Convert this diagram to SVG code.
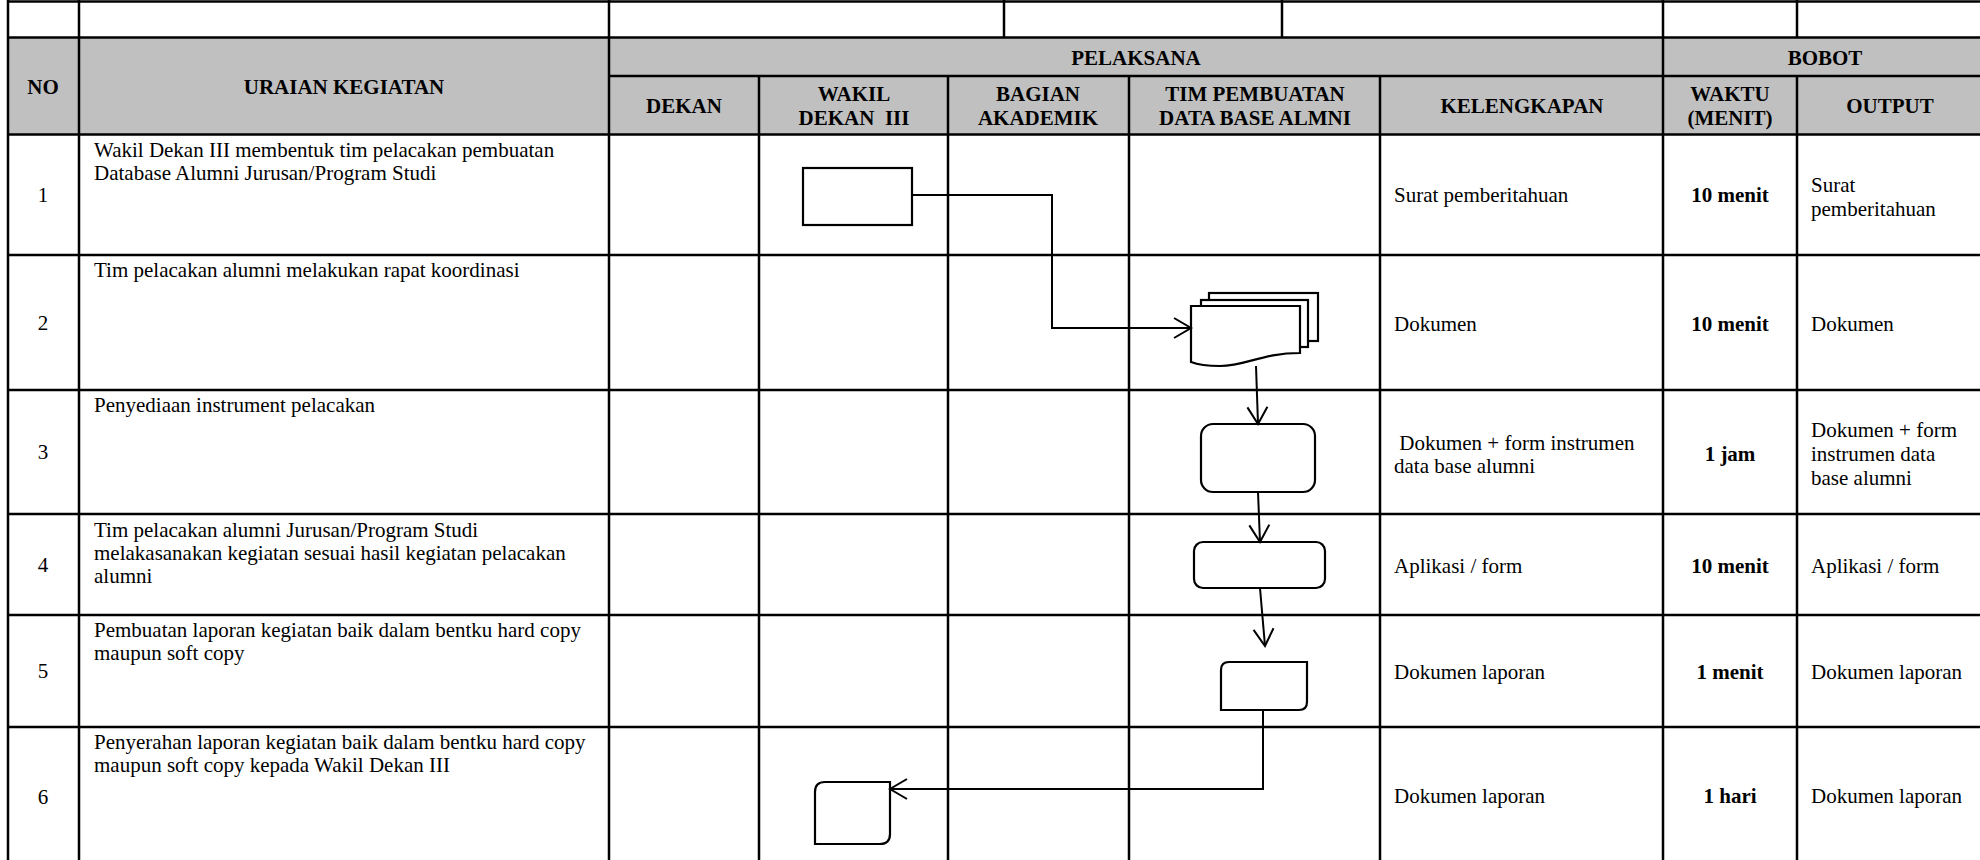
<svg xmlns="http://www.w3.org/2000/svg" width="1980" height="860" viewBox="0 0 1980 860">
<style>
text{font-family:"Liberation Serif","Times New Roman",serif;font-size:21px;fill:#000;white-space:pre}
.b{font-weight:bold}
.c{text-anchor:middle}
.grid line{stroke:#000;stroke-width:2.5}
.shape{fill:#fff;stroke:#000;stroke-width:2.2}
.conn{fill:none;stroke:#000;stroke-width:2}
</style>
<defs>
<marker id="arr" markerUnits="userSpaceOnUse" markerWidth="22" markerHeight="24" refX="19" refY="12" orient="auto" overflow="visible">
<path d="M2,2 L19,12 L2,22" fill="none" stroke="#000" stroke-width="2"/>
</marker>
</defs>
<rect x="0" y="0" width="1980" height="860" fill="#fff"/>
<rect x="8" y="37.5" width="1975" height="97" fill="#c0c0c0"/>
<g class="grid" id="table">
<line x1="8" y1="1.5" x2="1980" y2="1.5"/>
<line x1="8" y1="37.5" x2="1980" y2="37.5"/>
<line x1="609" y1="76" x2="1980" y2="76"/>
<line x1="8" y1="134.5" x2="1980" y2="134.5"/>
<line x1="8" y1="255" x2="1980" y2="255"/>
<line x1="8" y1="390" x2="1980" y2="390"/>
<line x1="8" y1="514" x2="1980" y2="514"/>
<line x1="8" y1="615" x2="1980" y2="615"/>
<line x1="8" y1="727" x2="1980" y2="727"/>
<line x1="8" y1="0" x2="8" y2="860"/>
<line x1="79" y1="0" x2="79" y2="860"/>
<line x1="609" y1="0" x2="609" y2="860"/>
<line x1="1004" y1="0" x2="1004" y2="37.5"/>
<line x1="1282" y1="0" x2="1282" y2="37.5"/>
<line x1="1663" y1="0" x2="1663" y2="860"/>
<line x1="1797" y1="0" x2="1797" y2="37.5"/>
<line x1="1797" y1="76" x2="1797" y2="860"/>
<line x1="759" y1="76" x2="759" y2="860"/>
<line x1="948" y1="76" x2="948" y2="860"/>
<line x1="1129" y1="76" x2="1129" y2="860"/>
<line x1="1380" y1="76" x2="1380" y2="860"/>
</g>
<g id="header">
<text class="b c" x="43" y="94">NO</text>
<text class="b c" x="344" y="94">URAIAN KEGIATAN</text>
<text class="b c" x="1136" y="65">PELAKSANA</text>
<text class="b c" x="1825" y="65">BOBOT</text>
<text class="b c" x="684" y="113">DEKAN</text>
<text class="b c" x="854" y="101">WAKIL</text>
<text class="b c" x="854" y="125">DEKAN  III</text>
<text class="b c" x="1038" y="101">BAGIAN</text>
<text class="b c" x="1038" y="125">AKADEMIK</text>
<text class="b c" x="1255" y="101">TIM PEMBUATAN</text>
<text class="b c" x="1255" y="125">DATA BASE ALMNI</text>
<text class="b c" x="1522" y="113">KELENGKAPAN</text>
<text class="b c" x="1730" y="101">WAKTU</text>
<text class="b c" x="1730" y="125">(MENIT)</text>
<text class="b c" x="1890" y="113">OUTPUT</text>
</g>
<g id="row1">
<text class="c" x="43" y="202">1</text>
<text x="94" y="157">Wakil Dekan III membentuk tim pelacakan pembuatan</text>
<text x="94" y="180">Database Alumni Jurusan/Program Studi</text>
<text x="1394" y="202">Surat pemberitahuan</text>
<text class="b c" x="1730" y="202">10 menit</text>
<text x="1811" y="192">Surat</text>
<text x="1811" y="216">pemberitahuan</text>
</g>
<g id="row2">
<text class="c" x="43" y="330">2</text>
<text x="94" y="277">Tim pelacakan alumni melakukan rapat koordinasi</text>
<text x="1394" y="331">Dokumen</text>
<text class="b c" x="1730" y="331">10 menit</text>
<text x="1811" y="331">Dokumen</text>
</g>
<g id="row3">
<text class="c" x="43" y="459">3</text>
<text x="94" y="412">Penyediaan instrument pelacakan</text>
<text x="1394" y="450"> Dokumen + form instrumen</text>
<text x="1394" y="473">data base alumni</text>
<text class="b c" x="1730" y="461">1 jam</text>
<text x="1811" y="437">Dokumen + form</text>
<text x="1811" y="461">instrumen data</text>
<text x="1811" y="485">base alumni</text>
</g>
<g id="row4">
<text class="c" x="43" y="572">4</text>
<text x="94" y="537">Tim pelacakan alumni Jurusan/Program Studi</text>
<text x="94" y="560">melakasanakan kegiatan sesuai hasil kegiatan pelacakan</text>
<text x="94" y="583">alumni</text>
<text x="1394" y="573">Aplikasi / form</text>
<text class="b c" x="1730" y="573">10 menit</text>
<text x="1811" y="573">Aplikasi / form</text>
</g>
<g id="row5">
<text class="c" x="43" y="678">5</text>
<text x="94" y="637">Pembuatan laporan kegiatan baik dalam bentku hard copy</text>
<text x="94" y="660">maupun soft copy</text>
<text x="1394" y="679">Dokumen laporan</text>
<text class="b c" x="1730" y="679">1 menit</text>
<text x="1811" y="679">Dokumen laporan</text>
</g>
<g id="row6">
<text class="c" x="43" y="804">6</text>
<text x="94" y="749">Penyerahan laporan kegiatan baik dalam bentku hard copy</text>
<text x="94" y="772">maupun soft copy kepada Wakil Dekan III</text>
<text x="1394" y="803">Dokumen laporan</text>
<text class="b c" x="1730" y="803">1 hari</text>
<text x="1811" y="803">Dokumen laporan</text>
</g>
<g id="node-wakil-start">
<rect class="shape" x="803" y="168" width="109" height="57"/>
</g>
<g id="node-documents">
<rect class="shape" x="1209" y="293" width="109" height="48"/>
<rect class="shape" x="1201" y="300" width="107" height="47"/>
<path class="shape" d="M1191,306 H1300 V353 C1262,353 1246,366 1220,366 C1205,366 1196,364 1191,362 Z"/>
</g>
<g id="node-instrument">
<rect class="shape" x="1201" y="424" width="114" height="68" rx="12" ry="12"/>
</g>
<g id="node-kegiatan">
<rect class="shape" x="1194" y="542" width="131" height="46" rx="9" ry="9"/>
</g>
<g id="node-laporan">
<path class="shape" d="M1229,662 H1307 V702 Q1307,710 1299,710 H1221 V670 Q1221,662 1229,662 Z"/>
</g>
<g id="node-penyerahan">
<path class="shape" d="M825,782 H890 V834 Q890,844 880,844 H815 V792 Q815,782 825,782 Z"/>
</g>
<g id="connectors">
<path class="conn" d="M912,195 H1052 V328 H1191" marker-end="url(#arr)"/>
<path class="conn" d="M1256,366 L1258,424" marker-end="url(#arr)"/>
<path class="conn" d="M1258,492 L1260,542" marker-end="url(#arr)"/>
<path class="conn" d="M1260,588 L1265,646" marker-end="url(#arr)"/>
<path class="conn" d="M1263,710 V789 H890" marker-end="url(#arr)"/>
</g>
</svg>
